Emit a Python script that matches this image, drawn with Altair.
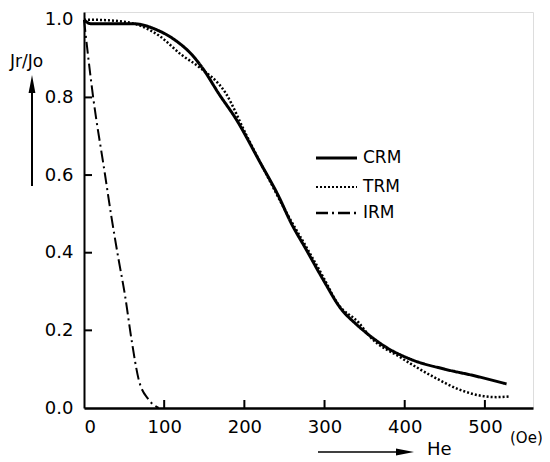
import altair as alt
import pandas as pd

# ---- data ----
series = ["CRM", "TRM", "IRM"]

crm_x = [0, 8, 30, 60, 93, 114, 135, 148, 168, 190, 219, 244, 257, 278, 299, 320, 340, 353, 378, 408, 450, 487, 527]
crm_y = [1.0, 0.99, 0.99, 0.99, 0.972, 0.947, 0.909, 0.875, 0.81, 0.743, 0.635, 0.54, 0.482, 0.405, 0.328, 0.257, 0.215, 0.192, 0.155, 0.125, 0.10, 0.083, 0.062]

trm_x = [0, 10, 50, 93, 122, 143, 177, 202, 231, 252, 278, 299, 316, 343, 357, 395, 437, 470, 500, 515, 531]
trm_y = [1.0, 1.0, 0.995, 0.96, 0.909, 0.879, 0.81, 0.705, 0.588, 0.505, 0.412, 0.335, 0.27, 0.219, 0.183, 0.13, 0.079, 0.046, 0.03, 0.028, 0.03]

irm_x = [0, 11, 26, 34, 43, 51, 59.5, 68, 80.5, 93]
irm_y = [1.0, 0.807, 0.604, 0.495, 0.384, 0.292, 0.173, 0.075, 0.022, 0.0]

x_ticks = [0, 100, 200, 300, 400, 500]
y_ticks = [0.0, 0.2, 0.4, 0.6, 0.8, 1.0]
inner_x_ticks = [100, 200, 300, 400, 500]
inner_y_ticks = [0.2, 0.4, 0.6, 0.8]

dashes = [[1, 0], [2, 2], [12, 4, 2, 4]]
widths = [3, 2, 2.5]

rows = []
for name, xs, ys in [("CRM", crm_x, crm_y), ("TRM", trm_x, trm_y), ("IRM", irm_x, irm_y)]:
    for i, (a, b) in enumerate(zip(xs, ys)):
        rows.append({"series": name, "He": a, "J": b, "order": i})
df = pd.DataFrame(rows)

W, H = 449, 396
FONT = "DejaVu Sans"

xscale = alt.Scale(domain=[0, 560], nice=False, zero=False)
yscale = alt.Scale(domain=[0, 1.02], nice=False, zero=False)

lines = alt.Chart(df).mark_line(color="black", interpolate="monotone").encode(
    x=alt.X("He:Q", scale=xscale,
            axis=alt.Axis(values=x_ticks, format="d", title=None, grid=False, ticks=False,
                          labelPadding=10, labelFontSize=18, labelFont=FONT, labelColor="black",
                          domainColor="black", domainWidth=2.5)),
    y=alt.Y("J:Q", scale=yscale,
            axis=alt.Axis(values=y_ticks, format=".1f", title=None, grid=False, ticks=False,
                          labelPadding=11, labelFontSize=18, labelFont=FONT, labelColor="black",
                          domainColor="black", domainWidth=2)),
    strokeDash=alt.StrokeDash("series:N", scale=alt.Scale(domain=series, range=dashes), legend=None),
    strokeWidth=alt.StrokeWidth("series:N", scale=alt.Scale(domain=series, range=widths), legend=None),
    order="order:Q",
)

# inward tick marks
xt = alt.Chart(pd.DataFrame({"t": inner_x_ticks})).mark_rule(color="black", strokeWidth=2).encode(
    x=alt.X("t:Q", scale=xscale), y=alt.value(H - 8), y2=alt.value(H))
yt = alt.Chart(pd.DataFrame({"t": inner_y_ticks})).mark_rule(color="black", strokeWidth=2).encode(
    y=alt.Y("t:Q", scale=yscale), x=alt.value(0), x2=alt.value(8))

# manual legend
legend_layers = []
leg_y = [146, 175, 201]
for i, name in enumerate(series):
    d = pd.DataFrame({"series": [name]})
    legend_layers.append(
        alt.Chart(d).mark_rule(color="black", strokeWidth=widths[i], strokeDash=dashes[i]).encode(
            x=alt.value(232), x2=alt.value(273), y=alt.value(leg_y[i])))
    legend_layers.append(
        alt.Chart(d).mark_text(align="left", baseline="middle", fontSize=17, font=FONT, color="black").encode(
            x=alt.value(279), y=alt.value(leg_y[i]), text="series:N"))

# axis titles and arrows
lab = pd.DataFrame({"t": ["Jr/Jo", "He", "(Oe)"]})
ytitle = alt.Chart(lab.iloc[[0]]).mark_text(align="left", baseline="middle", fontSize=17, font=FONT, color="black").encode(
    x=alt.value(-74), y=alt.value(50), text="t:N")
xtitle = alt.Chart(lab.iloc[[1]]).mark_text(align="left", baseline="middle", fontSize=18, font=FONT, color="black").encode(
    x=alt.value(343), y=alt.value(438), text="t:N")
unit = alt.Chart(lab.iloc[[2]]).mark_text(align="left", baseline="middle", fontSize=15, font=FONT, color="black").encode(
    x=alt.value(426), y=alt.value(426), text="t:N")

one = pd.DataFrame({"a": [0]})
yarrow = alt.Chart(one).mark_rule(color="black", strokeWidth=2).encode(
    x=alt.value(-52), y=alt.value(70), y2=alt.value(174))
yhead = alt.Chart(one).mark_point(shape="M0,-1L0.38,1L-0.38,1Z", filled=True, color="black", opacity=1, size=324).encode(
    x=alt.value(-52), y=alt.value(72))
xarrow = alt.Chart(one).mark_rule(color="black", strokeWidth=1.5).encode(
    x=alt.value(234), x2=alt.value(325), y=alt.value(440))
xhead = alt.Chart(one).mark_point(shape="M1,0L-1,-0.38L-1,0.38Z", filled=True, color="black", opacity=1, size=324).encode(
    x=alt.value(321), y=alt.value(440))

chart = alt.layer(lines, xt, yt, *legend_layers, ytitle, xtitle, unit, yarrow, yhead, xarrow, xhead).properties(
    width=W, height=H,
    autosize=alt.AutoSizeParams(type="none"),
    padding={"left": 76, "top": 4, "right": 9, "bottom": 53},
).configure_view(stroke=None).configure(background="white")

chart.save("out.html", embed_options={"renderer": "svg", "actions": False})
